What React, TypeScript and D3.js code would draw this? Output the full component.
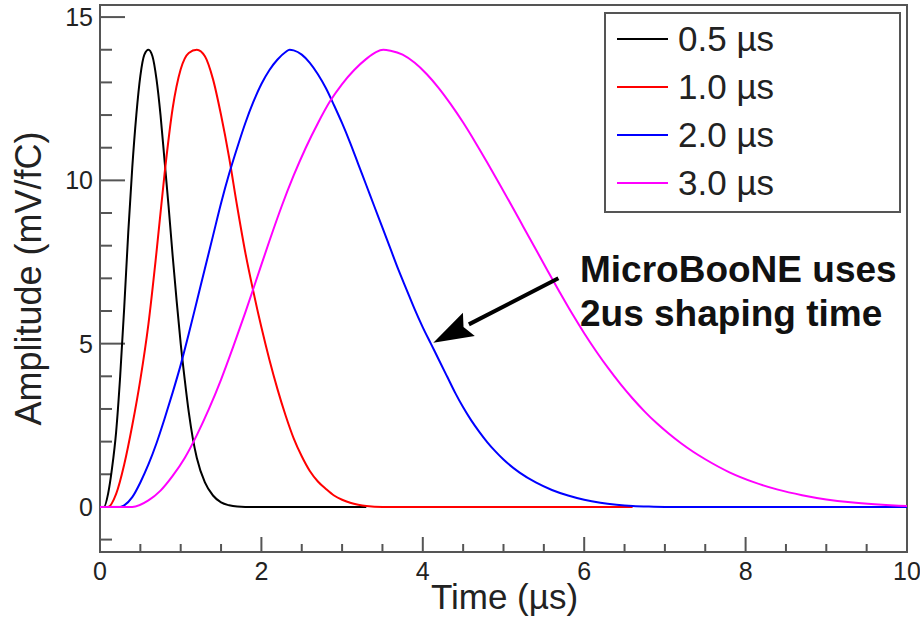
import * as d3 from 'd3'
import { useEffect, useRef } from 'react'

// shaping-time response curves: [time µs, amplitude mV/fC]
const curve05 = [
  [0, 0], [0.05, 0], [0.1, 0.4], [0.15, 1.2], [0.2, 2.3], [0.25, 4.0], [0.3, 6.1], [0.35, 8.4],
  [0.4, 10.4], [0.45, 12.0], [0.5, 13.2], [0.55, 13.85], [0.6, 14.0], [0.65, 13.8], [0.7, 13.1],
  [0.75, 12.0], [0.8, 10.6], [0.85, 9.2], [0.9, 7.7], [0.95, 6.3], [1.0, 5.0], [1.05, 3.9],
  [1.1, 2.9], [1.15, 2.1], [1.2, 1.5], [1.3, 0.75], [1.4, 0.35], [1.5, 0.14], [1.6, 0.05],
  [1.7, 0.01], [1.8, 0], [3.3, 0]
]
const curve10 = [
  [0, 0], [0.1, 0], [0.2, 0.4], [0.3, 1.3], [0.4, 2.5], [0.5, 3.9], [0.6, 5.6], [0.7, 7.8],
  [0.8, 10.2], [0.9, 12.2], [1.0, 13.4], [1.1, 13.9], [1.2, 14.0], [1.3, 13.8], [1.4, 13.1],
  [1.5, 12.0], [1.6, 10.7], [1.7, 9.2], [1.8, 7.8], [1.9, 6.6], [2.0, 5.5], [2.1, 4.5],
  [2.2, 3.6], [2.3, 2.8], [2.4, 2.1], [2.5, 1.55], [2.6, 1.1], [2.7, 0.78], [2.8, 0.55],
  [2.9, 0.35], [3.0, 0.22], [3.1, 0.13], [3.2, 0.07], [3.3, 0.03], [3.5, 0], [6.6, 0]
]
const curve20 = [
  [0, 0], [0.25, 0], [0.3, 0.05], [0.4, 0.3], [0.5, 0.75], [0.6, 1.3], [0.7, 1.95], [0.8, 2.7],
  [0.9, 3.5], [1.0, 4.35], [1.1, 5.3], [1.2, 6.3], [1.3, 7.3], [1.4, 8.3], [1.5, 9.3],
  [1.6, 10.2], [1.7, 11.0], [1.8, 11.75], [1.9, 12.4], [2.0, 12.95], [2.1, 13.38], [2.2, 13.7],
  [2.3, 13.93], [2.35, 14.0], [2.4, 13.98], [2.5, 13.85], [2.6, 13.6], [2.7, 13.25], [2.8, 12.82],
  [2.9, 12.3], [3.0, 11.75], [3.1, 11.15], [3.2, 10.5], [3.3, 9.85], [3.4, 9.2], [3.5, 8.55],
  [3.6, 7.9], [3.7, 7.25], [3.8, 6.65], [3.9, 6.05], [4.0, 5.5], [4.1, 5.0], [4.2, 4.5],
  [4.3, 4.0], [4.4, 3.5], [4.5, 3.05], [4.6, 2.65], [4.7, 2.3], [4.8, 1.98], [4.9, 1.7],
  [5.0, 1.45], [5.2, 1.05], [5.4, 0.75], [5.6, 0.52], [5.8, 0.35], [6.0, 0.22], [6.2, 0.13],
  [6.4, 0.07], [6.6, 0.03], [6.8, 0.01], [7.0, 0], [10, 0]
]
const curve30 = [
  [0, 0], [0.4, 0], [0.6, 0.2], [0.75, 0.5], [0.9, 0.95], [1.05, 1.5], [1.2, 2.2], [1.35, 3.0],
  [1.5, 3.9], [1.65, 4.9], [1.8, 5.95], [1.95, 7.05], [2.1, 8.15], [2.25, 9.2], [2.4, 10.15],
  [2.55, 11.0], [2.7, 11.75], [2.85, 12.42], [3.0, 12.95], [3.15, 13.38], [3.3, 13.72],
  [3.42, 13.93], [3.51, 14.0], [3.6, 13.97], [3.75, 13.85], [3.9, 13.6], [4.05, 13.25], [4.2, 12.82],
  [4.35, 12.32], [4.5, 11.77], [4.65, 11.17], [4.8, 10.54], [4.95, 9.89], [5.1, 9.23],
  [5.25, 8.56], [5.4, 7.89], [5.55, 7.22], [5.7, 6.56], [5.85, 5.92], [6.0, 5.32], [6.15, 4.76],
  [6.3, 4.24], [6.45, 3.76], [6.6, 3.32], [6.75, 2.92], [6.9, 2.56], [7.05, 2.24], [7.2, 1.95],
  [7.35, 1.69], [7.5, 1.46], [7.8, 1.06], [8.1, 0.76], [8.4, 0.53], [8.7, 0.36], [9.0, 0.23],
  [9.3, 0.14], [9.6, 0.08], [9.9, 0.04], [10, 0.03]
]

const seriesLabels = ['0.5 µs', '1.0 µs', '2.0 µs', '3.0 µs']
const seriesColors = ['#000000', '#ff0000', '#0000ff', '#ff00ff']
const seriesData = [curve05, curve10, curve20, curve30]

const xMajorTicks = [0, 2, 4, 6, 8, 10]
const yMajorTicks = [0, 5, 10, 15]

const noteLines = ['MicroBooNE uses', '2us shaping time']
const arrowFrom = [5.68, 7.0]
const arrowTo = [4.13, 5.03]

export default function App() {
  const ref = useRef(null)

  useEffect(() => {
    const W = 920
    const H = 619
    const margin = { top: 5, right: 13, bottom: 67, left: 100 }
    const width = W - margin.left - margin.right
    const height = H - margin.top - margin.bottom
    const font = "'Liberation Sans', Arial, Helvetica, sans-serif"
    const axisColor = '#555'

    const svgRoot = d3.select(ref.current)
    svgRoot.selectAll('*').remove()
    svgRoot.attr('width', W).attr('height', H)
    svgRoot.append('rect').attr('width', W).attr('height', H).attr('fill', '#fff')

    const svg = svgRoot.append('g').attr('transform', `translate(${margin.left},${margin.top})`)

    const x = d3.scaleLinear().domain([0, 10]).range([0, width])
    const y = d3.scaleLinear().domain([-1.38, 15.37]).range([height, 0])

    // frame
    svg
      .append('rect')
      .attr('width', width)
      .attr('height', height)
      .attr('fill', 'none')
      .attr('stroke', axisColor)
      .attr('stroke-width', 2)

    // x ticks
    const xMinor = d3.range(0, 10.01, 0.5)
    svg
      .selectAll('.xtick')
      .data(xMinor)
      .enter()
      .append('line')
      .attr('x1', (d) => x(d))
      .attr('x2', (d) => x(d))
      .attr('y1', height)
      .attr('y2', (d) => height - (xMajorTicks.includes(d) ? 15 : 8))
      .attr('stroke', axisColor)
      .attr('stroke-width', 2)

    svg
      .selectAll('.xlab')
      .data(xMajorTicks)
      .enter()
      .append('text')
      .attr('x', (d) => x(d))
      .attr('y', height + 28)
      .attr('text-anchor', 'middle')
      .attr('font-family', font)
      .attr('font-size', 25)
      .attr('fill', '#222')
      .text((d) => d)

    // y ticks
    const yMinor = d3.range(-1, 15.01, 1)
    svg
      .selectAll('.ytick')
      .data(yMinor)
      .enter()
      .append('line')
      .attr('x1', 0)
      .attr('x2', (d) => (yMajorTicks.includes(d) ? 25 : 12))
      .attr('y1', (d) => y(d))
      .attr('y2', (d) => y(d))
      .attr('stroke', axisColor)
      .attr('stroke-width', 2)

    svg
      .selectAll('.ylab')
      .data(yMajorTicks)
      .enter()
      .append('text')
      .attr('x', -7)
      .attr('y', (d) => y(d) + 9)
      .attr('text-anchor', 'end')
      .attr('font-family', font)
      .attr('font-size', 25)
      .attr('fill', '#222')
      .text((d) => d)

    // axis titles
    svgRoot
      .append('text')
      .attr('x', margin.left + width / 2 + 1)
      .attr('y', 609)
      .attr('text-anchor', 'middle')
      .attr('font-family', font)
      .attr('font-size', 35)
      .attr('fill', '#222')
      .text('Time (µs)')

    svgRoot
      .append('text')
      .attr('transform', `translate(41,${margin.top + height / 2}) rotate(-90)`)
      .attr('text-anchor', 'middle')
      .attr('font-family', font)
      .attr('font-size', 36)
      .attr('fill', '#222')
      .text('Amplitude (mV/fC)')

    // curves
    const line = d3
      .line()
      .x((d) => x(d[0]))
      .y((d) => y(d[1]))
      .curve(d3.curveMonotoneX)

    seriesData.forEach((pts, i) => {
      svg
        .append('path')
        .datum(pts)
        .attr('fill', 'none')
        .attr('stroke', seriesColors[i])
        .attr('stroke-width', 2)
        .attr('d', line)
    })

    // legend
    const legend = svgRoot.append('g')
    legend
      .append('rect')
      .attr('x', 605)
      .attr('y', 13)
      .attr('width', 295)
      .attr('height', 199)
      .attr('fill', '#fff')
      .attr('stroke', axisColor)
      .attr('stroke-width', 2)

    seriesLabels.forEach((label, i) => {
      const ly = 39 + i * 48
      legend
        .append('line')
        .attr('x1', 617)
        .attr('x2', 668)
        .attr('y1', ly)
        .attr('y2', ly)
        .attr('stroke', seriesColors[i])
        .attr('stroke-width', 2)
      legend
        .append('text')
        .attr('x', 678)
        .attr('y', ly + 12)
        .attr('font-family', font)
        .attr('font-size', 35)
        .attr('fill', '#222')
        .text(label)
    })

    // annotation
    noteLines.forEach((t, i) => {
      svgRoot
        .append('text')
        .attr('x', 580)
        .attr('y', 282 + i * 44)
        .attr('font-family', font)
        .attr('font-weight', 'bold')
        .attr('font-size', 37)
        .attr('fill', '#111')
        .text(t)
    })

    const x0 = x(arrowFrom[0])
    const y0 = y(arrowFrom[1])
    const x1 = x(arrowTo[0])
    const y1 = y(arrowTo[1])
    const ang = Math.atan2(y1 - y0, x1 - x0)
    const headLen = 40
    const headW = 13
    const bx = x1 - headLen * Math.cos(ang)
    const by = y1 - headLen * Math.sin(ang)
    svg
      .append('line')
      .attr('x1', x0)
      .attr('y1', y0)
      .attr('x2', bx)
      .attr('y2', by)
      .attr('stroke', '#000')
      .attr('stroke-width', 4)
    svg
      .append('polygon')
      .attr(
        'points',
        [
          [x1, y1],
          [bx + headW * Math.sin(ang), by - headW * Math.cos(ang)],
          [bx + 6 * Math.cos(ang), by + 6 * Math.sin(ang)],
          [bx - headW * Math.sin(ang), by + headW * Math.cos(ang)]
        ]
          .map((p) => p.join(','))
          .join(' ')
      )
      .attr('fill', '#000')
  }, [])

  return <svg ref={ref} style={{ position: 'absolute', left: 0, top: 0, display: 'block' }}></svg>
}
